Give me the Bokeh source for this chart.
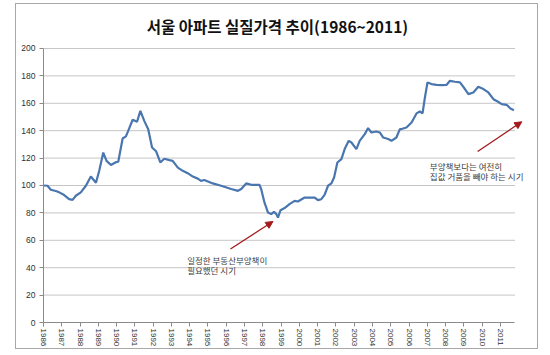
import math
from bokeh.plotting import figure
from bokeh.models import Range1d, FixedTicker, Arrow, NormalHead, ColumnDataSource
from bokeh.core.properties import value
from bokeh.embed import file_html
from bokeh.resources import INLINE

title_text = "서울 아파트 실질가격 추이(1986~2011)"

years = [1986.00, 1986.22, 1986.40, 1986.67, 1986.86, 1987.13, 1987.40, 1987.59, 1987.77, 1988.04,
         1988.32, 1988.59, 1988.87, 1989.05, 1989.27, 1989.45, 1989.69, 1989.96, 1990.09, 1990.33,
         1990.51, 1990.64, 1990.88, 1991.12, 1991.30, 1991.52, 1991.73, 1991.94, 1992.16, 1992.39,
         1992.61, 1992.89, 1993.07, 1993.35, 1993.62, 1993.89, 1994.17, 1994.44, 1994.62, 1994.80,
         1995.26, 1995.72, 1996.27, 1996.64, 1996.82, 1997.09, 1997.37, 1997.82, 1997.91, 1998.09,
         1998.28, 1998.46, 1998.61, 1998.74, 1998.83, 1998.97, 1999.19, 1999.46, 1999.74, 1999.92,
         2000.29, 2000.56, 2000.84, 2001.02, 2001.20, 2001.38, 2001.57, 2001.75, 2001.90, 2002.08,
         2002.30, 2002.48, 2002.70, 2002.85, 2003.12, 2003.30, 2003.58, 2003.76, 2003.94, 2004.21,
         2004.40, 2004.59, 2004.86, 2005.04, 2005.31, 2005.50, 2005.59, 2005.86, 2006.14, 2006.41,
         2006.59, 2006.74, 2006.87, 2007.01, 2007.23, 2007.51, 2007.78, 2008.06, 2008.24, 2008.51,
         2008.79, 2009.06, 2009.25, 2009.52, 2009.79, 2010.07, 2010.34, 2010.62, 2010.85, 2011.07,
         2011.34, 2011.55, 2011.74]
prices = [100.0, 99.8, 96.9, 96.0, 95.0, 93.0, 90.0, 89.5, 92.5, 95.0,
          99.8, 106.6, 102.0, 110.7, 124.0, 118.0, 115.0, 117.0, 117.3, 134.3,
          135.8, 140.0, 148.0, 146.5, 154.5, 147.0, 141.0, 127.7, 125.0, 116.8,
          119.5, 118.5, 118.0, 113.0, 110.7, 109.0, 106.5, 105.0, 103.4, 104.0,
          101.5, 99.8, 97.4, 96.1, 97.4, 101.5, 100.5, 100.5, 97.4, 87.6,
          80.3, 79.1, 80.8, 79.1, 76.6, 82.0, 83.5, 86.4, 88.8, 88.3,
          91.2, 91.2, 91.2, 89.3, 90.0, 93.2, 99.8, 101.5, 105.8, 116.8,
          119.3, 126.6, 132.6, 131.4, 126.6, 132.6, 137.5, 141.9, 138.7, 139.4,
          138.7, 135.0, 133.9, 132.6, 135.0, 141.2, 141.2, 142.3, 146.0, 152.6,
          154.0, 152.6, 164.2, 175.2, 174.0, 173.5, 173.3, 173.5, 176.4, 175.7,
          175.2, 170.4, 166.7, 167.9, 172.0, 170.4, 167.9, 163.0, 161.3, 159.4,
          158.9, 156.2, 155.0]

year_ticks = list(range(1986, 2012))
y_ticks = list(range(0, 201, 20))
x_start, x_axis_end, x_frame_end = 1986, 2011.78, 2013.14
y_axis_end, y_frame_end = 200, 232.1

note1_lines = ["일정한 부동산부양책이", "필요했던 시기"]
note2_lines = ["부양책보다는 여전히", "집값 거품을 빼야 하는 시기"]

p = figure(width=523, height=346, output_backend="svg", toolbar_location=None,
           x_range=Range1d(x_start, x_frame_end), y_range=Range1d(0, y_frame_end),
           min_border_left=27, min_border_right=0, min_border_top=0, min_border_bottom=28)
p.margin = (3, 0, 0, 15)
p.styles = {"border": "1px solid #a8a8a8"}
p.outline_line_color = None
p.background_fill_color = "white"
p.border_fill_color = "white"

# title (drawn as text in the top part of the canvas)
p.text(x=[1998.80], y=[216.4], text=[title_text], text_font=value("Noto Sans CJK KR"),
       text_font_style="bold", text_font_size="15.5px", text_color="#111111",
       text_align="center", text_baseline="middle")

# dotted gridlines limited to the plotting area
grid_y = y_ticks[1:]
p.segment(x0=[x_start] * len(grid_y), x1=[x_axis_end] * len(grid_y), y0=grid_y, y1=grid_y,
          line_color="#8c8c8c", line_dash="1 1", line_width=1)

p.line(years, prices, line_color="#4a76b0", line_width=2.2)

# axes
p.xaxis.ticker = FixedTicker(ticks=year_ticks)
p.yaxis.ticker = FixedTicker(ticks=y_ticks)
p.xaxis.bounds = (x_start, x_axis_end)
p.yaxis.bounds = (0, y_axis_end)
for ax in (p.xaxis, p.yaxis):
    ax.axis_line_color = "#8a8a8a"
    ax.major_tick_line_color = "#8a8a8a"
    ax.major_tick_out = 4
    ax.major_tick_in = 0
    ax.minor_tick_line_color = None
    ax.major_label_text_font = "Liberation Sans"
    ax.major_label_text_font_size = "8.5px"
    ax.major_label_text_color = "#303030"
p.yaxis.major_label_standoff = 4
p.xaxis.major_label_standoff = 2
p.xaxis.major_label_text_font_size = "8px"
p.xaxis.major_label_orientation = -math.pi / 2

p.xgrid.grid_line_color = None
p.ygrid.grid_line_color = None

# annotations
arrow_color = "#a3191c"
p.add_layout(Arrow(x_start=1996.23, y_start=53.6, x_end=1998.555, y_end=73.7,
                   line_color=arrow_color, line_width=1.3,
                   end=NormalHead(size=7, fill_color=arrow_color, line_color=arrow_color)))
p.add_layout(Arrow(x_start=2009.755, y_start=124.8, x_end=2012.17, y_end=146.5,
                   line_color=arrow_color, line_width=1.3,
                   end=NormalHead(size=7, fill_color=arrow_color, line_color=arrow_color)))

src1 = ColumnDataSource(dict(x=[1993.86, 1993.86], y=[45.8, 38.2], t=note1_lines))
src2 = ColumnDataSource(dict(x=[2007.14, 2007.14], y=[114.4, 107.1], t=note2_lines))
for src in (src1, src2):
    p.text(x="x", y="y", text="t", source=src, text_font=value("Noto Sans CJK KR"),
           text_font_size="8.5px", text_color="#404040", text_baseline="middle", text_align="left")

open("out.html", "w").write(file_html(p, INLINE))
